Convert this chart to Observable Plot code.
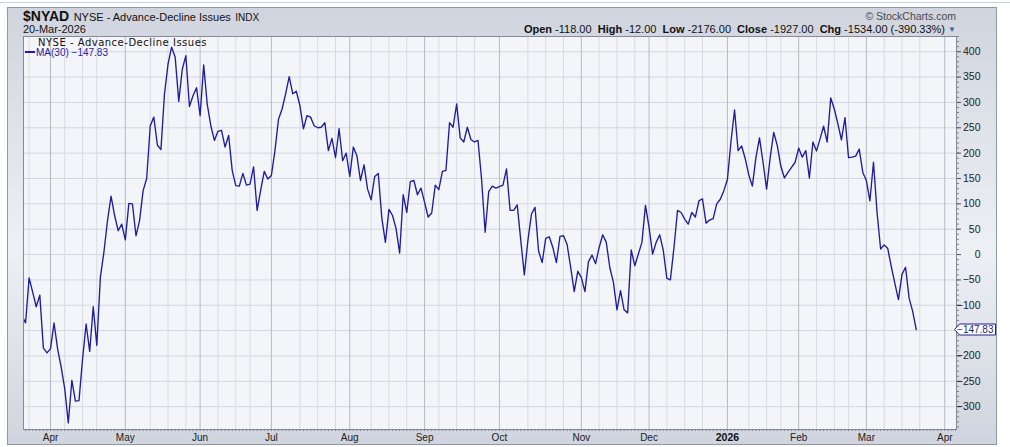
<!DOCTYPE html>
<html>
<head>
<meta charset="utf-8">
<script src="https://cdn.jsdelivr.net/npm/d3@7"></script>
<script src="https://cdn.jsdelivr.net/npm/@observablehq/plot@0.6"></script>
<style>
html, body { margin: 0; padding: 0; background: #fff; width: 1010px; height: 447px; overflow: hidden; font-family: "Liberation Sans", Arial, sans-serif; }
#wrap { position: relative; width: 1010px; height: 447px; }
#topline { position: absolute; left: 0; top: 2px; width: 1010px; height: 1px; background: #c4d1de; }
#panel { position: absolute; left: 7px; top: 7px; width: 988px; height: 436px; border: 1px solid #8f97a4;
  background: linear-gradient(#cfd4de 0%, #dde1e8 25%, #edf0f5 55%, #dde1e8 80%, #cfd4de 100%); }
#chart { position: absolute; left: 0; top: 0; }
.t { position: absolute; white-space: nowrap; line-height: 1; }
</style>
</head>
<body>
<div id="wrap">
  <div id="topline"></div>
  <div id="panel"></div>
  <div id="chart"></div>
  <div class="t" id="title" style="left:23px; top:8px; color:#111;"></div>
  <div class="t" id="date" style="left:23px; top:24px; font-size:11px; color:#111;"></div>
  <div class="t" id="copy" style="right:54px; top:11px; font-size:10.5px; color:#4a4a4a;"></div>
  <div class="t" id="ohlc" style="right:54px; top:24px; font-size:11px; color:#111;"></div>
  <div class="t" id="leg1" style="left:38px; top:38px; font-family:'DejaVu Sans', Verdana, sans-serif; font-size:10px; letter-spacing:0.5px; color:#111;"></div>
  <div class="t" id="leg2" style="left:25px; top:48px; font-size:10px; color:#1f1f9e;"></div>
</div>
<script>
// ---------------- data ----------------
const symbol = "$NYAD";
const seriesName = "NYSE - Advance-Decline Issues";
const exchangeTag = "INDX";
const chartDate = "20-Mar-2026";
const copyright = "© StockCharts.com";
const ohlcLabels = ["Open", "High", "Low", "Close", "Chg"];
const ohlcValues = ["-118.00", "-12.00", "-2176.00", "-1927.00", "-1534.00 (-390.33%)"];
const maLabel = "MA(30)";

// trading calendar (first point = 20-Mar-2025, last data point = 20-Mar-2026)
const calendarStart = "2025-03-20";
const calendarEnd = "2026-04-10";
const holidays = ["2025-04-18", "2025-05-26", "2025-06-19", "2025-07-04", "2025-09-01",
  "2025-11-27", "2025-12-25", "2026-01-01", "2026-01-19", "2026-02-16"];

// MA(30) values, one per trading day
const maValues = [
  -120, -135, -46, -74, -103, -80, -184, -194, -186, -135,
  -186, -222, -265, -332, -248, -289, -288, -206, -137, -191,
  -103, -179, -45, 5, 67, 115, 77, 47, 60, 29,
  101, 100, 37, 67, 126, 150, 254, 271, 216, 207,
  317, 376, 409, 389, 302, 366, 392, 292, 313, 329,
  274, 374, 296, 254, 225, 243, 245, 212, 235, 166,
  136, 135, 160, 137, 139, 173, 87, 127, 164, 149,
  156, 205, 267, 287, 317, 351, 317, 322, 294, 248,
  274, 271, 254, 250, 251, 260, 205, 229, 191, 248,
  185, 200, 154, 212, 195, 146, 177, 129, 108, 154,
  160, 72, 24, 89, 77, 51, 3, 118, 83, 144,
  146, 118, 131, 103, 74, 82, 137, 128, 164, 166,
  260, 251, 297, 230, 222, 251, 227, 222, 225, 148,
  44, 124, 135, 131, 134, 137, 169, 87, 87, 98,
  28, -40, 28, 80, 93, 7, -16, 32, 35, 14,
  -16, 36, 37, 20, -25, -73, -33, -45, -73, -14,
  -1, -18, 14, 39, 24, -26, -55, -109, -71, -109,
  -115, 9, -22, 1, 24, 97, 54, 1, 24, 39,
  8, -47, -50, 14, 87, 83, 70, 60, 83, 74,
  106, 110, 62, 68, 71, 100, 109, 126, 148, 223,
  285, 205, 214, 189, 157, 135, 191, 230, 182, 129,
  191, 241, 215, 174, 151, 162, 172, 182, 210, 192,
  205, 151, 222, 204, 228, 253, 222, 309, 287, 258,
  226, 270, 191, 192, 194, 208, 162, 146, 106, 182,
  83, 11, 19, 12, -24, -57, -89, -39, -25, -86,
  -112, -147.83
];

const monthLabels = ["Apr", "May", "Jun", "Jul", "Aug", "Sep", "Oct", "Nov", "Dec", "2026", "Feb", "Mar", "Apr"];
const yTicks = [-300, -250, -200, -150, -100, -50, 0, 50, 100, 150, 200, 250, 300, 350, 400];

// ---------------- build ----------------
const parse = d3.utcParse("%Y-%m-%d");
const fmt = d3.utcFormat("%Y-%m-%d");
const holidaySet = new Set(holidays);
const days = d3.utcDay.range(parse(calendarStart), d3.utcDay.offset(parse(calendarEnd), 1))
  .filter(d => d.getUTCDay() !== 0 && d.getUTCDay() !== 6 && !holidaySet.has(fmt(d)));
const idx = k => k - 1; // first date sits at index -1

const series = maValues.map((v, k) => ({i: idx(k), v}));
const last = maValues[maValues.length - 1];

const monthIdx = [];
const weekStarts = [];
for (let k = 1; k < days.length; k++) {
  if (days[k].getUTCMonth() !== days[k - 1].getUTCMonth()) monthIdx.push(idx(k));
  if (days[k].getUTCDay() <= days[k - 1].getUTCDay()) weekStarts.push(idx(k));
}
const monthTicks = monthIdx.slice(0, monthLabels.length).map((i, j) => ({i, label: monthLabels[j]}));
const weekIdx = weekStarts.filter(w => !monthIdx.some(m => Math.abs(m - w) <= 3));
const labelOf = new Map(monthTicks.map(d => [d.i, d.label]));
const normalTicks = monthTicks.filter(d => !/^\d{4}$/.test(d.label)).map(d => d.i);
const yearTicks = monthTicks.filter(d => /^\d{4}$/.test(d.label)).map(d => d.i);
const yLabelTicks = yTicks.filter(t => Math.abs(t - last) > 15);

const xDomain = [-0.575, 261.3];
const xMinor = d3.range(0, 262);
const yMinor = d3.range(-340, 431, 10);

const chart = Plot.plot({
  width: 1010,
  height: 447,
  marginLeft: 23,
  marginRight: 54,
  marginTop: 36,
  marginBottom: 18,
  style: {background: "transparent", fontFamily: "'Liberation Sans', Arial, sans-serif", overflow: "visible"},
  x: {type: "linear", domain: xDomain},
  y: {domain: [-345, 430]},
  marks: [
    Plot.frame({fill: "#f4f5f9", stroke: null}),
    Plot.ruleY(yTicks, {stroke: "#d3d6de", strokeWidth: 1}),
    Plot.ruleX(weekIdx, {stroke: "#d9dbe3", strokeWidth: 1}),
    Plot.ruleX(monthIdx, {stroke: "#b6bac5", strokeWidth: 1}),
    Plot.line(series, {x: "i", y: "v", stroke: "#1e1e9a", strokeWidth: 1.35, clip: true}),
    Plot.frame({stroke: "#858a96"}),
    Plot.axisY(yMinor, {anchor: "right", tickSize: 2, tickFormat: () => "", stroke: "#7a7f8a", label: null}),
    Plot.axisY(yTicks, {anchor: "right", tickSize: 4, tickFormat: () => "", stroke: "#555", label: null}),
    Plot.axisY(yLabelTicks, {anchor: "right", tickSize: 0, tickPadding: 24, textAnchor: "end", fontSize: 10.5, color: "#222", label: null}),
    Plot.axisX(xMinor, {anchor: "bottom", tickSize: 2, tickFormat: () => "", stroke: "#7a7f8a", label: null}),
    Plot.axisX(normalTicks, {anchor: "bottom", tickSize: 0, tickPadding: 4, fontSize: 10, color: "#222", tickFormat: i => labelOf.get(i), label: null}),
    Plot.axisX(yearTicks, {anchor: "bottom", tickSize: 0, tickPadding: 4, fontSize: 10.5, fontWeight: "bold", color: "#111", tickFormat: i => labelOf.get(i), label: null})
  ]
});
document.getElementById("chart").appendChild(chart);

// last-value marker on the right axis
const yc = Math.round(chart.scale("y").apply(last)) + 0.5;
const xs = 956;
const svg = d3.select(chart);
const g = svg.append("g");
const h = 5.5;
g.append("path")
  .attr("d", `M${xs - 1.5},${yc} L${xs + 3.5},${yc - h} L${xs + 39.5},${yc - h} L${xs + 39.5},${yc + h} L${xs + 3.5},${yc + h} Z`)
  .attr("fill", "#fff").attr("stroke", "#1f1f8a").attr("stroke-width", 1);
g.append("text")
  .attr("x", xs + 37.5).attr("y", yc).attr("dy", "0.36em")
  .attr("text-anchor", "end")
  .attr("font-size", 10).attr("fill", "#1f1f8a")
  .text(d3.format(".2f")(last));

// header & legend text
document.getElementById("title").innerHTML =
  `<b style="font-size:14px">${symbol}</b> <span style="font-size:11px">${seriesName}</span> <span style="font-size:10px">${exchangeTag}</span>`;
document.getElementById("date").textContent = chartDate;
document.getElementById("copy").textContent = copyright;
document.getElementById("ohlc").innerHTML = ohlcLabels.map((l, j) => `<b>${l}</b> ${ohlcValues[j]}`).join("&nbsp;&nbsp;") +
  ` <span style="color:#3b64a8;font-size:8px;vertical-align:1px">&#9660;</span>`;
document.getElementById("leg1").textContent = seriesName;
document.getElementById("leg2").innerHTML =
  `<span style="display:inline-block;width:10px;height:2px;background:#1f1f9e;vertical-align:3px;margin-right:1px"></span>${maLabel} ${d3.format(".2f")(last)}`;
</script>
</body>
</html>
